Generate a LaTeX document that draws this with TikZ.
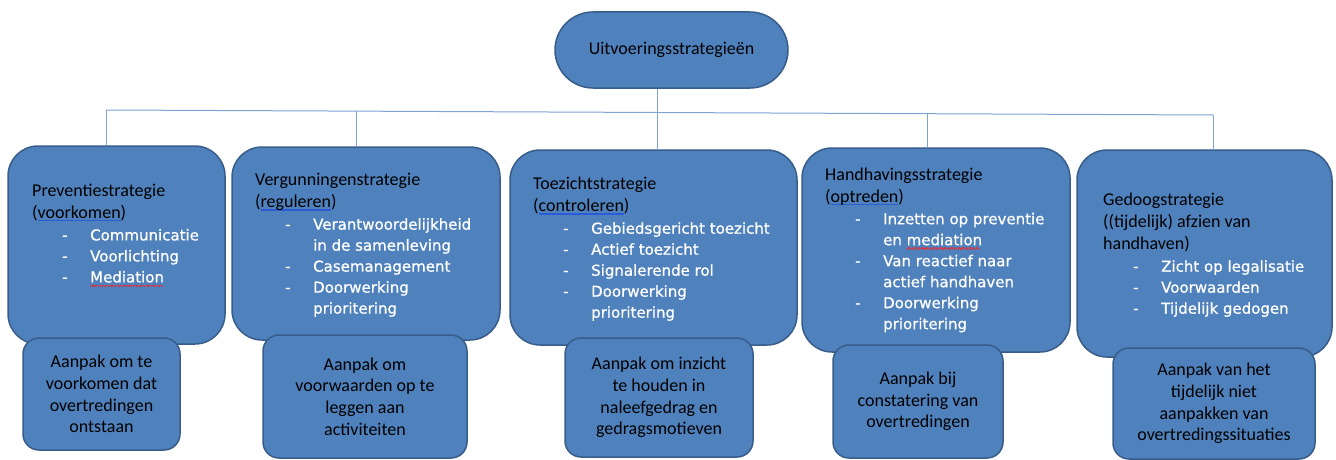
\documentclass[tikz,border=0pt]{standalone}
\usepackage{fontspec}
\setmainfont{Carlito}
\newfontfamily\itemfont[FakeBold=0.8]{DejaVu Sans}
\usetikzlibrary{backgrounds}
\definecolor{boxfill}{HTML}{4F81BD}
\definecolor{boxdraw}{HTML}{385D8A}
\definecolor{linec}{HTML}{7EA3D4}
\definecolor{spellblue}{HTML}{2B5BD7}
\definecolor{spellred}{HTML}{E0303A}
\newsavebox\spbox
\newcommand\spb[1]{\sbox\spbox{#1}\rlap{\textcolor{spellblue}{\rule[-3pt]{\wd\spbox}{1.4pt}}}\usebox\spbox}
\newcommand\wavepiece{\rule[-4.6pt]{0.6pt}{1.2pt}\rule[-4.0pt]{0.6pt}{1.2pt}\rule[-3.4pt]{0.6pt}{1.2pt}\rule[-3.4pt]{0.6pt}{1.2pt}\rule[-4.0pt]{0.6pt}{1.2pt}\rule[-4.6pt]{0.6pt}{1.2pt}}
\newcommand\spr[1]{\sbox\spbox{#1}\rlap{\textcolor{spellred}{\hbox to \wd\spbox{\leaders\hbox{\wavepiece}\hfill}}}\usebox\spbox}
\newcommand\itm[1]{{\itemfont\color{white}\fontsize{15}{21}\selectfont\hspace*{30pt}\makebox[28pt][l]{-}#1}}
\newcommand\cnt[1]{{\itemfont\color{white}\fontsize{15}{21}\selectfont\hspace*{58pt}#1}}
\tikzset{
  mainbox/.style={draw=boxdraw, line width=1.5pt, fill=boxfill, rounded corners=30pt, inner sep=0pt},
  subbox/.style={draw=boxdraw, line width=1.5pt, fill=boxfill, rounded corners=16pt, inner sep=0pt,
    align=center, font=\fontsize{18}{21.7}\selectfont},
  topbox/.style={draw=boxdraw, line width=1.5pt, fill=boxfill, rounded corners=38pt, inner sep=0pt,
    font=\fontsize{18}{21.7}\selectfont},
  txt/.style={anchor=west, align=left, inner sep=0pt, font=\fontsize{18}{21}\selectfont},
  conn/.style={draw=linec, line width=1pt}
}
\begin{document}
\begin{tikzpicture}[x=1pt,y=-1pt]
\useasboundingbox (0,0) rectangle (1336,460);
% top node
\node[topbox, minimum width=233pt, minimum height=76pt] (top) at (671.5,50) {Uitvoeringsstrategieën};
% main boxes
\node[mainbox, minimum width=217pt, minimum height=198pt] (b1) at (116.5,245) {};
\node[mainbox, minimum width=268pt, minimum height=193pt] (b2) at (366,243.5) {};
\node[mainbox, minimum width=287pt, minimum height=195pt] (b3) at (653.5,247.5) {};
\node[mainbox, minimum width=268pt, minimum height=204pt] (b4) at (936,250) {};
\node[mainbox, minimum width=255pt, minimum height=207pt] (b5) at (1204.5,253.5) {};
% texts in main boxes
\node[txt] (t1) at (32,235.5) {Preventiestrategie\\[1pt](\spb{voorkomen})\\[1pt]\itm{Communicatie}\\\itm{Voorlichting}\\\itm{\spr{Mediation}}};
\node[txt] (t2) at (255,245) {Vergunningenstrategie\\[1pt](\spb{reguleren})\\[1pt]\itm{Verantwoordelijkheid}\\\cnt{in de samenleving}\\\itm{Casemanagement}\\\itm{Doorwerking}\\\cnt{prioritering}};
\node[txt] (t3) at (533,249) {Toezichtstrategie\\[1pt](\spb{controleren})\\[1pt]\itm{Gebiedsgericht toezicht}\\\itm{Actief toezicht}\\\itm{Signalerende rol}\\\itm{Doorwerking}\\\cnt{prioritering}};
\node[txt] (t4) at (825,250) {Handhavingsstrategie\\[1pt](\spb{optreden})\\[1pt]\itm{Inzetten op preventie}\\\cnt{en \spr{mediation}}\\\itm{Van reactief naar}\\\cnt{actief handhaven}\\\itm{Doorwerking}\\\cnt{prioritering}};
\node[txt] (t5) at (1103,255) {Gedoogstrategie\\[1pt]((tijdelijk) afzien van\\[1pt]handhaven)\\[1pt]\itm{Zicht op legalisatie}\\\itm{Voorwaarden}\\\itm{Tijdelijk gedogen}};
% sub boxes
\node[subbox, minimum width=157pt, minimum height=112pt] (s1) at (101.5,394) {Aanpak om te\\voorkomen dat\\overtredingen\\ontstaan};
\node[subbox, minimum width=204pt, minimum height=123pt] (s2) at (365,396.5) {Aanpak om\\voorwaarden op te\\leggen aan\\activiteiten};
\node[subbox, minimum width=188pt, minimum height=119pt] (s3) at (659,397.5) {Aanpak om inzicht\\te houden in\\naleefgedrag en\\gedragsmotieven};
\node[subbox, minimum width=170pt, minimum height=113pt] (s4) at (918,401.5) {Aanpak bij\\constatering van\\overtredingen};
\node[subbox, minimum width=202pt, minimum height=111pt] (s5) at (1214,403.5) {Aanpak van het\\tijdelijk niet\\aanpakken van\\overtredingssituaties};
% connectors
\coordinate (j1) at (106,110);
\coordinate (j2) at (356,111.1);
\coordinate (j3) at (657,112.5);
\coordinate (j4) at (927,113.7);
\coordinate (j5) at (1213,115);
\begin{scope}[on background layer]
\draw[conn] (top.south -| j3) -- (j3);
\draw[conn] (j1) -- (j5);
\draw[conn] (j1) -- (j1 |- b1.north);
\draw[conn] (j2) -- (j2 |- b2.north);
\draw[conn] (j3) -- (j3 |- b3.north);
\draw[conn] (j4) -- (j4 |- b4.north);
\draw[conn] (j5) -- (j5 |- b5.north);
\end{scope}
\end{tikzpicture}
\end{document}
